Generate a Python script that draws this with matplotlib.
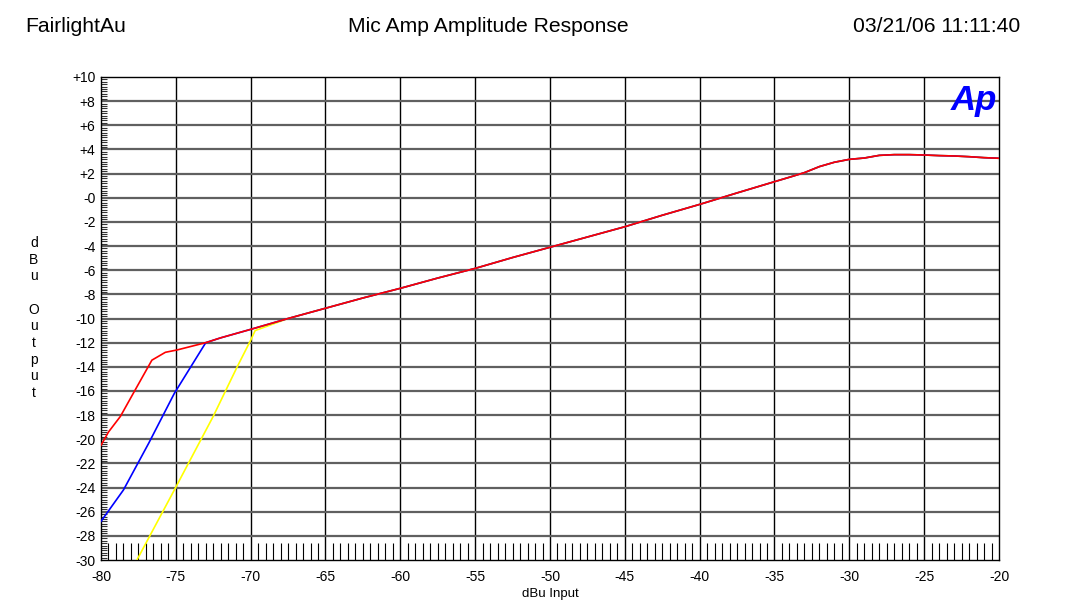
import matplotlib
matplotlib.use("Agg")
import matplotlib.pyplot as plt
from matplotlib.ticker import MultipleLocator, FixedLocator
import numpy as np

plt.rcParams['font.family'] = ['Liberation Sans', 'DejaVu Sans']

# Shared main curve (all three traces coincide here)
main_x = [-73, -72, -70, -67.5, -65, -62.5, -60, -57.5, -55, -52.5, -50, -47.5, -45,
          -42.5, -40, -37.5, -35, -34, -33, -32, -31, -30, -29, -28, -27, -26, -25,
          -24, -23, -22, -21, -20]
main_y = [-12.0, -11.6, -10.9, -10.0, -9.15, -8.3, -7.5, -6.65, -5.85, -4.95, -4.1,
          -3.25, -2.4, -1.45, -0.55, 0.4, 1.33, 1.7, 2.08, 2.58, 2.94, 3.18, 3.29,
          3.51, 3.57, 3.57, 3.54, 3.49, 3.46, 3.4, 3.32, 3.27]

# Low-level segments of each trace
red_low_x = [-80, -79.5, -78.7, -77.8, -76.6, -75.7, -74.9]
red_low_y = [-20.5, -19.4, -18.1, -16.1, -13.45, -12.8, -12.6]

blue_low_x = [-80, -78.5, -76.8, -75.1]
blue_low_y = [-26.8, -24.2, -20.3, -16.2]

yellow_low_x = [-77.6, -75.1, -72.5, -70.9, -70.0, -69.7]
yellow_low_y = [-30.0, -24.2, -18.1, -14.0, -11.8, -11.0]

x_ticks = [-80, -75, -70, -65, -60, -55, -50, -45, -40, -35, -30, -25, -20]
y_ticks = [10, 8, 6, 4, 2, 0, -2, -4, -6, -8, -10, -12, -14, -16, -18, -20, -22, -24, -26, -28, -30]
y_tick_labels = ['+10', '+8', '+6', '+4', '+2', '-0', '-2', '-4', '-6', '-8', '-10', '-12',
                 '-14', '-16', '-18', '-20', '-22', '-24', '-26', '-28', '-30']

W, H = 1091, 605
fig = plt.figure(figsize=(W / 100, H / 100), dpi=100)
ax = fig.add_axes([101 / W, 1 - 560 / H, (999 - 101) / W, (560 - 77) / H])

# traces
yx = yellow_low_x + [v for v in main_x if v > -69.7]
yy = yellow_low_y + [main_y[i] for i, v in enumerate(main_x) if v > -69.7]
ax.plot(yx, yy, color='#ffff00', lw=1.2, zorder=3)
ax.plot(blue_low_x + main_x, blue_low_y + main_y, color='#0000ff', lw=1.2, zorder=4)
ax.plot(red_low_x + main_x, red_low_y + main_y, color='#ff0000', lw=1.2, zorder=5)

ax.set_xlim(-80, -20)
ax.set_ylim(-30, 10)

# grid
for xv in x_ticks[1:-1]:
    ax.axvline(xv, color='black', lw=1.0, zorder=1)
for yv in y_ticks[1:-1]:
    ax.axhline(yv, color='#606060', lw=1.6, zorder=1)

ax.set_xticks(x_ticks)
ax.set_xticklabels([str(v) for v in x_ticks])
ax.set_yticks(y_ticks)
ax.set_yticklabels(y_tick_labels)
ax.tick_params(axis='y', which='major', length=0, labelsize=10, pad=4)
ax.tick_params(axis='x', which='major', length=0, labelsize=10, pad=7)

ax.xaxis.set_minor_locator(FixedLocator([v for v in np.arange(-79.5, -20, 0.5) if v % 5 != 0]))
ax.yaxis.set_minor_locator(MultipleLocator(0.2))
ax.tick_params(axis='x', which='minor', direction='in', length=12.5, width=0.8, color='black',
               bottom=True, top=False)
ax.tick_params(axis='y', which='minor', direction='in', length=4.5, width=0.8, color='#333333',
               left=True, right=False)

for s in ax.spines.values():
    s.set_color('black')
    s.set_linewidth(1.0)

ax.set_xlabel('dBu Input', fontsize=9.5, labelpad=3)

# stacked y label
fig.text(34 / W, 1 - 318 / H, "d\nB\nu\n\nO\nu\nt\np\nu\nt", fontsize=10,
         ha='center', va='center', linespacing=1.24)

# header
fig.text(25 / W, 1 - 26 / H, 'FairlightAu', fontsize=15.2, ha='left', va='center')
fig.text(488 / W, 1 - 26 / H, 'Mic Amp Amplitude Response', fontsize=15.2, ha='center', va='center')
fig.text(1020 / W, 1 - 26 / H, '03/21/06 11:11:40', fontsize=15.2, ha='right', va='center')

# logo
ax.text(0.998, 0.985, 'Ap', transform=ax.transAxes, fontsize=25, fontweight='bold',
        style='italic', color='#0000ff', ha='right', va='top', zorder=6)

fig.savefig('out.png', dpi=100, facecolor='white')
